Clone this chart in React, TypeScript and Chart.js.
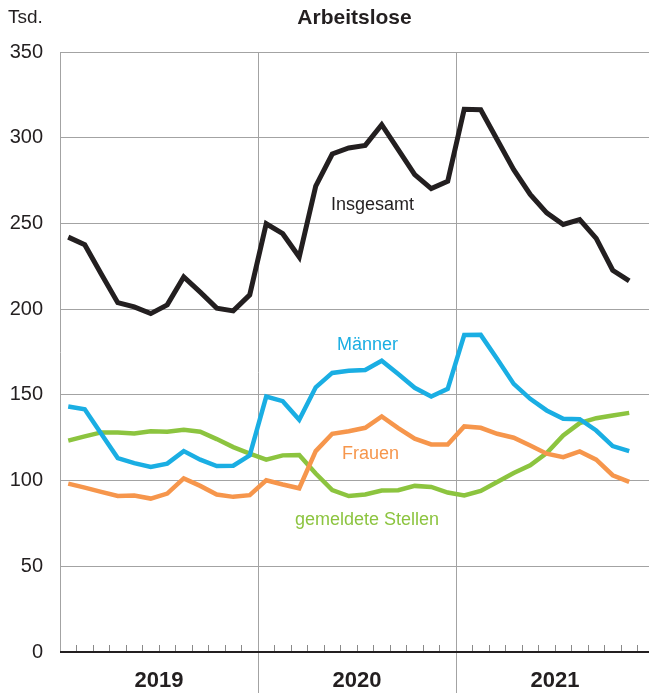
import React, { useEffect, useRef } from "react";
import { Chart, registerables } from "chart.js";

Chart.register(...registerables);

// ---- data ----
const years = ["2019", "2020", "2021"];
const yTickValues = [0, 50, 100, 150, 200, 250, 300, 350];

const insgesamt = [
  242, 237.6, 220.5, 203.8, 201.3, 197.4, 202.5, 218.8, 209.9, 200.6, 199, 208.3,
  249.8, 244, 230.4, 271.7, 290.5, 294, 295.5, 307.6, 293, 278.5, 270.3, 274.6,
  316.6, 316.3, 298.8, 281.4, 266.9, 256.2, 249.4, 252.3, 241.3, 222.7, 216.5,
];
const maenner = [
  143.2, 141.6, 127.3, 113.1, 110.2, 107.9, 109.9, 117.2, 112.2, 108.5, 108.7, 114.7,
  149, 146.3, 135.5, 154.4, 162.8, 164.1, 164.5, 169.9, 162.2, 154.1, 149, 153.5,
  184.9, 185, 170.9, 156.4, 147.7, 140.9, 136, 135.8, 129.2, 120.1, 117.2,
];
const frauen = [
  98.2, 95.9, 93.4, 91, 91.3, 89.5, 92.4, 101.3, 96.9, 91.9, 90.5, 91.5,
  100.2, 97.7, 95.5, 117.2, 127.3, 128.8, 130.8, 137.4, 130.6, 124.4, 121.1, 121.1,
  131.6, 130.8, 127.3, 125, 120.5, 115.7, 113.7, 117, 112.2, 103.1, 99.2,
];
const stellen = [
  123.3, 125.8, 128.1, 128.1, 127.5, 128.8, 128.5, 129.7, 128.5, 124.2, 119.5, 115.7,
  112.2, 114.7, 114.9, 104.1, 94.4, 91, 91.9, 94.2, 94.4, 96.9, 96.3, 93,
  91.3, 94, 99.2, 104.4, 108.9, 116, 126.3, 133.5, 136.4, 138, 139.5,
];

const seriesNames = ["Insgesamt", "Männer", "Frauen", "gemeldete Stellen"];
const seriesValues = [insgesamt, maenner, frauen, stellen];
const seriesColors = ["#231f20", "#1aaee3", "#f6964c", "#8cc43f"];
const seriesWidths = [5, 4.5, 4.5, 4.5];
// label anchors in data space (month index, value)
const labelAnchorX = [16.42, 16.79, 17.09, 14.24];
const labelAnchorY = [260.6, 179, 115.6, 77.2];

const FONT = "'Liberation Sans', Arial, Helvetica, sans-serif";
const TEXT = "#231f20";
const GRID = "#a3a3a3";

const toPoints = (vals: number[]) => vals.map((v, i) => ({ x: i + 0.5, y: v }));

const decorPlugin = {
  id: "decor",
  beforeDatasetsDraw(chart: any) {
    const { ctx, chartArea, scales } = chart;
    const x = scales.x;
    ctx.save();
    ctx.strokeStyle = GRID;
    ctx.lineWidth = 1;
    for (let k = 1; k < years.length; k++) {
      const px = Math.round(x.getPixelForValue(k * 12)) + 0.5;
      ctx.beginPath();
      ctx.moveTo(px, chartArea.top);
      ctx.lineTo(px, chart.height);
      ctx.stroke();
    }
    ctx.restore();
  },
  afterDatasetsDraw(chart: any) {
    const { ctx, chartArea, scales } = chart;
    const x = scales.x;
    const y = scales.y;
    const y0 = Math.round(y.getPixelForValue(0));
    ctx.save();
    // month ticks
    ctx.strokeStyle = "#8a8a8a";
    ctx.lineWidth = 1;
    for (let m = 1; m <= Math.floor(x.max); m++) {
      if (m % 12 === 0) continue;
      const px = Math.round(x.getPixelForValue(m)) + 0.5;
      ctx.beginPath();
      ctx.moveTo(px, y0);
      ctx.lineTo(px, y0 - 7);
      ctx.stroke();
    }
    // bottom axis
    ctx.strokeStyle = TEXT;
    ctx.lineWidth = 2;
    ctx.beginPath();
    ctx.moveTo(chartArea.left, y0);
    ctx.lineTo(chartArea.right, y0);
    ctx.stroke();

    // series labels
    ctx.textAlign = "left";
    ctx.textBaseline = "middle";
    ctx.font = `18px ${FONT}`;
    seriesNames.forEach((name, i) => {
      ctx.fillStyle = seriesColors[i];
      ctx.fillText(name, x.getPixelForValue(labelAnchorX[i]), y.getPixelForValue(labelAnchorY[i]));
    });

    // year labels
    ctx.fillStyle = TEXT;
    ctx.font = `bold 22px ${FONT}`;
    ctx.textAlign = "center";
    ctx.textBaseline = "alphabetic";
    years.forEach((yr, k) => {
      ctx.fillText(yr, x.getPixelForValue(k * 12 + 6), 687);
    });

    // title and unit
    ctx.font = `bold 21px ${FONT}`;
    ctx.fillText("Arbeitslose", (chartArea.left + chartArea.right) / 2, 24);
    ctx.font = `19px ${FONT}`;
    ctx.textAlign = "left";
    ctx.fillText("Tsd.", 8, 23);
    ctx.restore();
  },
};

export default function App() {
  const ref = useRef<HTMLCanvasElement | null>(null);

  useEffect(() => {
    if (!ref.current) return;
    const chart = new Chart(ref.current, {
      type: "line",
      data: {
        datasets: seriesValues.map((vals, i) => ({
          label: seriesNames[i],
          data: toPoints(vals),
          borderColor: seriesColors[i],
          backgroundColor: seriesColors[i],
          borderWidth: seriesWidths[i],
          pointRadius: 0,
          tension: 0,
          fill: false,
        })),
      },
      options: {
        animation: false,
        responsive: false,
        devicePixelRatio: 1,
        layout: { padding: { top: 52, left: 0, right: 0, bottom: 0 } },
        plugins: {
          legend: { display: false },
          title: { display: false },
          tooltip: { enabled: false },
        },
        scales: {
          x: {
            type: "linear",
            min: 0,
            max: 35.7,
            ticks: { display: false },
            grid: { display: false },
            border: { display: false },
            afterFit: (s: any) => {
              s.height = 41;
            },
          },
          y: {
            min: 0,
            max: 350,
            afterBuildTicks: (s: any) => {
              s.ticks = yTickValues.map((v) => ({ value: v }));
            },
            ticks: {
              color: TEXT,
              font: { family: FONT, size: 20 },
              padding: 17,
            },
            grid: { color: GRID, lineWidth: 1, drawTicks: false },
            border: { display: true, color: GRID, width: 1 },
            afterFit: (s: any) => {
              s.width = 60;
            },
          },
        },
      },
      plugins: [decorPlugin],
    });
    return () => chart.destroy();
  }, []);

  return (
    <div style={{ position: "absolute", left: 0, top: 0, width: 649, height: 693, background: "#fff" }}>
      <canvas ref={ref} width={649} height={693} style={{ display: "block", width: 649, height: 693 }} />
    </div>
  );
}
